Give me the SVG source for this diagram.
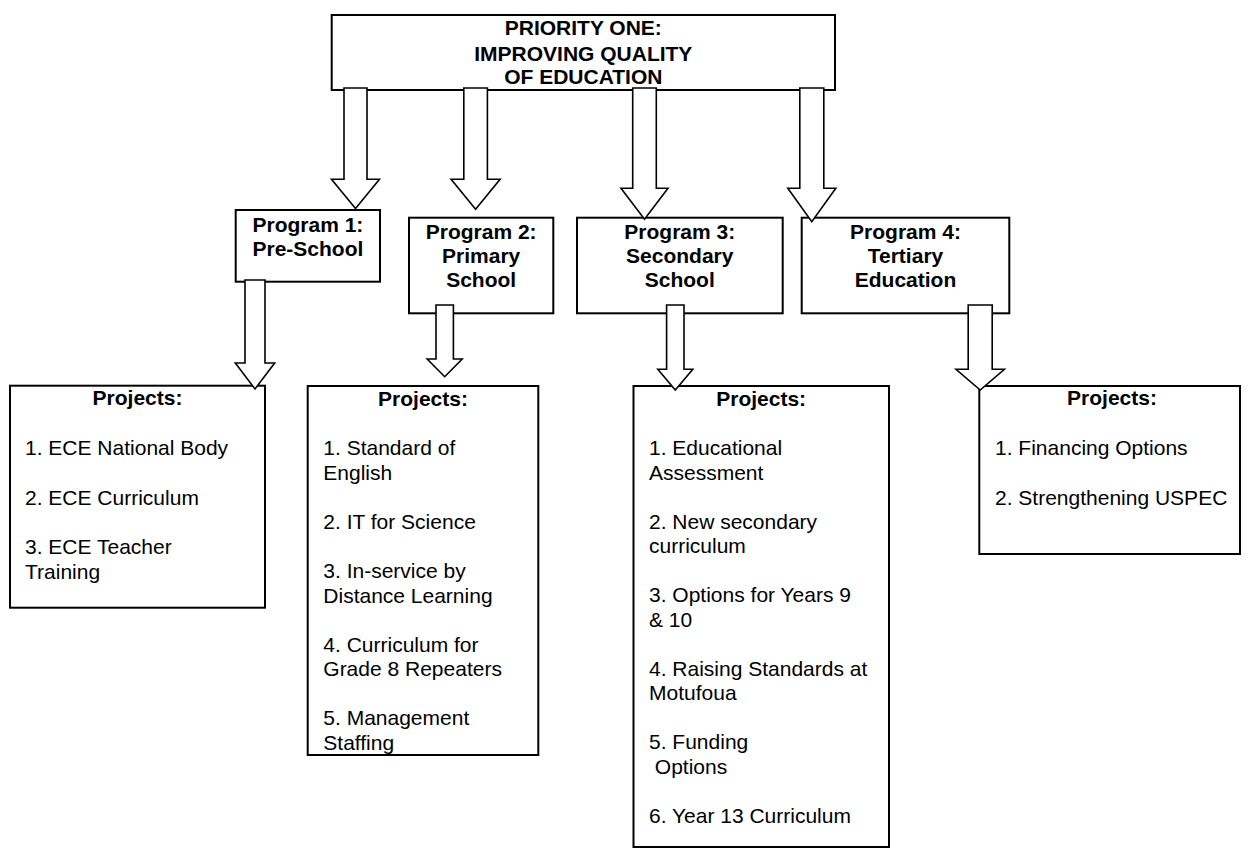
<svg xmlns="http://www.w3.org/2000/svg" width="1258" height="856" viewBox="0 0 1258 856">
<style>
.box{fill:#fff;stroke:#000;stroke-width:2}
.arr{fill:#fff;stroke:#000;stroke-width:1.6;stroke-linejoin:miter}
.b{font-family:"Liberation Sans",Arial,sans-serif;font-size:21px;font-weight:bold;fill:#000;text-anchor:middle}
.t{font-family:"Liberation Sans",Arial,sans-serif;font-size:21px;fill:#000}
</style>
<rect width="1258" height="856" fill="#fff"/>
<g id="priority">
<rect class="box" x="331.7" y="15" width="503.3" height="75"/>
<text class="b" x="583.3" y="35">PRIORITY ONE:</text>
<text class="b" x="583.3" y="60.5">IMPROVING QUALITY</text>
<text class="b" x="583.3" y="84">OF EDUCATION</text>
</g>
<g id="program1">
<rect class="box" x="235.7" y="210" width="144.3" height="71.7"/>
<text class="b" x="307.9" y="232">Program 1:</text>
<text class="b" x="307.9" y="255.5">Pre-School</text>
</g>
<g id="program2">
<rect class="box" x="409" y="217.7" width="144.3" height="95.6"/>
<text class="b" x="481.2" y="238.5">Program 2:</text>
<text class="b" x="481.2" y="262.8">Primary</text>
<text class="b" x="481.2" y="287">School</text>
</g>
<g id="program3">
<rect class="box" x="577" y="217.7" width="205.7" height="95.6"/>
<text class="b" x="679.8" y="238.5">Program 3:</text>
<text class="b" x="679.8" y="262.8">Secondary</text>
<text class="b" x="679.8" y="287">School</text>
</g>
<g id="program4">
<rect class="box" x="801.7" y="217.7" width="207.6" height="95.6"/>
<text class="b" x="905.5" y="238.5">Program 4:</text>
<text class="b" x="905.5" y="262.8">Tertiary</text>
<text class="b" x="905.5" y="287">Education</text>
</g>
<g id="projects1">
<rect class="box" x="10" y="385.7" width="255" height="222"/>
<text class="b" x="137.5" y="405">Projects:</text>
<text class="t" x="25" y="455">1. ECE National Body</text>
<text class="t" x="25" y="504.5">2. ECE Curriculum</text>
<text class="t" x="25" y="554">3. ECE Teacher</text>
<text class="t" x="25" y="578.5">Training</text>
</g>
<g id="projects2">
<rect class="box" x="307.7" y="386" width="230.6" height="369"/>
<text class="b" x="423" y="406">Projects:</text>
<text class="t" x="323.3" y="455">1. Standard of</text>
<text class="t" x="323.3" y="479.5">English</text>
<text class="t" x="323.3" y="528.5">2. IT for Science</text>
<text class="t" x="323.3" y="578">3. In-service by</text>
<text class="t" x="323.3" y="602.5">Distance Learning</text>
<text class="t" x="323.3" y="651.5">4. Curriculum for</text>
<text class="t" x="323.3" y="676">Grade 8 Repeaters</text>
<text class="t" x="323.3" y="725">5. Management</text>
<text class="t" x="323.3" y="749.5">Staffing</text>
</g>
<g id="projects3">
<rect class="box" x="633.5" y="386" width="255.5" height="461"/>
<text class="b" x="761.2" y="406">Projects:</text>
<text class="t" x="649" y="455">1. Educational</text>
<text class="t" x="649" y="479.5">Assessment</text>
<text class="t" x="649" y="528.5">2. New secondary</text>
<text class="t" x="649" y="553">curriculum</text>
<text class="t" x="649" y="602">3. Options for Years 9</text>
<text class="t" x="649" y="626.5">&amp; 10</text>
<text class="t" x="649" y="675.5">4. Raising Standards at</text>
<text class="t" x="649" y="700">Motufoua</text>
<text class="t" x="649" y="749">5. Funding</text>
<text class="t" x="649" y="773.5" xml:space="preserve"> Options</text>
<text class="t" x="649" y="822.5">6. Year 13 Curriculum</text>
</g>
<g id="projects4">
<rect class="box" x="979.3" y="386" width="260.7" height="168"/>
<text class="b" x="1112" y="405">Projects:</text>
<text class="t" x="995" y="455">1. Financing Options</text>
<text class="t" x="995" y="505">2. Strengthening USPEC</text>
</g>
<g id="connectors">
<polygon class="arr" points="344,88 367,88 367,179.3 379.5,179.3 355.5,208.5 331.5,179.3 344,179.3"/>
<polygon class="arr" points="463.8,88 487.4,88 487.4,179.3 500.1,179.3 475.6,209.3 451.1,179.3 463.8,179.3"/>
<polygon class="arr" points="632.7,88 656.3,88 656.3,188.3 668,188.3 644.5,219.3 621,188.3 632.7,188.3"/>
<polygon class="arr" points="799.8,88 823.8,88 823.8,188.3 835.8,188.3 811.8,221.7 787.8,188.3 799.8,188.3"/>
<polygon class="arr" points="245,280 265,280 265,363 274.7,363 255,389 235.3,363 245,363"/>
<polygon class="arr" points="436,305 453.4,305 453.4,359 462.2,359 444.7,376.7 427.2,359 436,359"/>
<polygon class="arr" points="666.6,305 684,305 684,369.3 692.8,369.3 675.3,390 657.8,369.3 666.6,369.3"/>
<polygon class="arr" points="968.2,305 992.2,305 992.2,369.3 1004.4,369.3 980.2,390 956,369.3 968.2,369.3"/>
</g>
</svg>
